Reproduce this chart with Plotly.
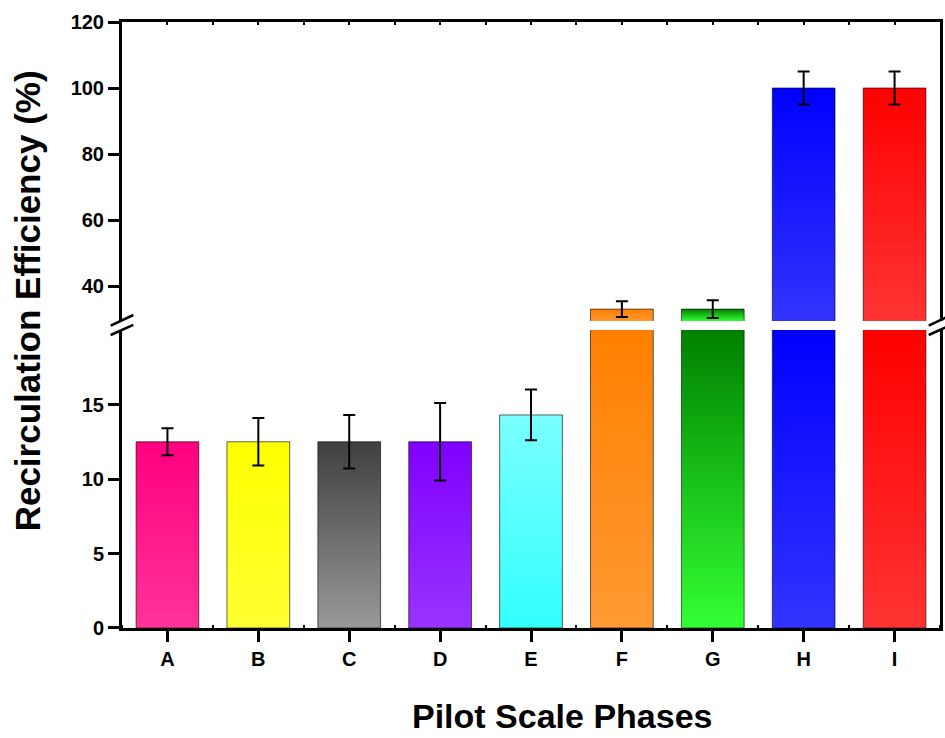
import plotly.graph_objects as go

# ---- data ----
categories = ["A", "B", "C", "D", "E", "F", "G", "H", "I"]
values = [12.5, 12.5, 12.5, 12.5, 14.3, 33.0, 33.0, 100.0, 100.0]
errors = [0.9, 1.6, 1.8, 2.6, 1.7, 2.4, 2.7, 5.0, 5.0]
top_colors = ["#FF0080", "#FFFF00", "#404040", "#8000FF", "#7AFFFF",
              "#FF8000", "#008000", "#0000FF", "#FF0000"]
bottom_colors = ["#FF3399", "#FFFF33", "#999999", "#9933FF", "#33FFFF",
                 "#FF9933", "#33FF33", "#3333FF", "#FF3333"]
lower_ticks = [0, 5, 10, 15]
upper_ticks = [40, 60, 80, 100, 120]

LOW_RANGE = [0, 20]
UP_RANGE = [29.4, 120]
BAR_WIDTH = 0.69

FONT = "Liberation Sans, Arial, sans-serif"

fig = go.Figure()

hw = BAR_WIDTH / 2
for i, (v, tc, bc) in enumerate(zip(values, top_colors, bottom_colors)):
    xs = [i - hw, i + hw, i + hw, i - hw, i - hw]
    if v <= LOW_RANGE[1]:
        segs = [("x", "y", 0, v, 0, v)]
    else:
        segs = [
            ("x", "y", 0, LOW_RANGE[1] * 1.1, 0, LOW_RANGE[1]),
            ("x2", "y2", UP_RANGE[0] - 3, v, UP_RANGE[0], v),
        ]
    for xa, ya, b, t, gs, ge in segs:
        fig.add_trace(go.Scatter(
            x=xs, y=[b, b, t, t, b], xaxis=xa, yaxis=ya,
            mode="lines", fill="toself",
            fillgradient=dict(type="vertical", colorscale=[[0, bc], [1, tc]],
                              start=gs, stop=ge),
            line=dict(color="rgba(0,0,0,0.6)", width=1),
            showlegend=False, hoverinfo="skip", name=categories[i],
        ))

low_idx = [i for i, v in enumerate(values) if v <= LOW_RANGE[1]]
up_idx = [i for i, v in enumerate(values) if v > LOW_RANGE[1]]

for idx, xa, ya in [(low_idx, "x", "y"), (up_idx, "x2", "y2")]:
    fig.add_trace(go.Scatter(
        x=idx, y=[values[i] for i in idx], xaxis=xa, yaxis=ya,
        mode="markers", marker=dict(size=1, color="rgba(0,0,0,0)"),
        error_y=dict(type="data", array=[errors[i] for i in idx],
                     color="black", thickness=2, width=6),
        showlegend=False, hoverinfo="skip",
    ))

tickfont = dict(family=FONT, size=20, color="black", weight="bold")
common_y = dict(showline=True, linewidth=3, linecolor="black", mirror=True,
                ticks="outside", ticklen=11, tickwidth=2.5, tickcolor="black",
                showgrid=False, zeroline=False, tickfont=tickfont)

fig.update_layout(
    width=945, height=738,
    margin=dict(l=122, r=2, t=22, b=110),
    paper_bgcolor="white", plot_bgcolor="rgba(0,0,0,0)",
    showlegend=False,
    xaxis=dict(domain=[0, 1], range=[-0.5, 8.5], anchor="y",
               tickmode="array", tickvals=list(range(len(categories))),
               ticktext=categories, ticks="outside", ticklen=11,
               tickwidth=2.5, tickcolor="black", showline=True,
               linewidth=3, linecolor="black", showgrid=False,
               zeroline=False, tickfont=tickfont,
               minor=dict(tickmode="array",
                          tickvals=[i + 0.5 for i in range(-1, len(categories))],
                          ticks="inside", ticklen=3, tickwidth=1.5,
                          tickcolor="black", showgrid=False)),
    xaxis2=dict(domain=[0, 1], range=[-0.5, 8.5], anchor="y2", side="top",
                showline=True, linewidth=3, linecolor="black",
                tickmode="array",
                tickvals=[i * 0.5 for i in range(-1, 2 * len(categories))],
                ticks="inside", ticklen=3, tickwidth=1.5, tickcolor="black",
                showticklabels=False, showgrid=False, zeroline=False),
    yaxis=dict(domain=[0, 0.4917], range=LOW_RANGE, anchor="x",
               tickmode="array", tickvals=lower_ticks, **common_y),
    yaxis2=dict(domain=[0.5066, 1], range=UP_RANGE, anchor="x2",
                tickmode="array", tickvals=upper_ticks, **common_y),
)

# titles
fig.add_annotation(text="Recirculation Efficiency (%)", textangle=-90,
                   xref="paper", yref="paper", x=-0.1157, y=0.5396,
                   xanchor="center", yanchor="middle", showarrow=False,
                   font=dict(family=FONT, size=35, color="black", weight="bold"))
fig.add_annotation(text="Pilot Scale Phases",
                   xref="paper", yref="paper", x=0.5384, y=-0.146,
                   xanchor="center", yanchor="middle", showarrow=False,
                   font=dict(family=FONT, size=34, color="black", weight="bold"))

# axis break marks
for xc in (0, 1):
    for y0, y1 in ((0.4988, 0.5165), (0.4835, 0.5002)):
        fig.add_shape(type="line", xref="paper", yref="paper",
                      x0=xc - 0.0138, x1=xc + 0.0138, y0=y0, y1=y1,
                      line=dict(color="black", width=2.5))

fig.write_html("out.html")
